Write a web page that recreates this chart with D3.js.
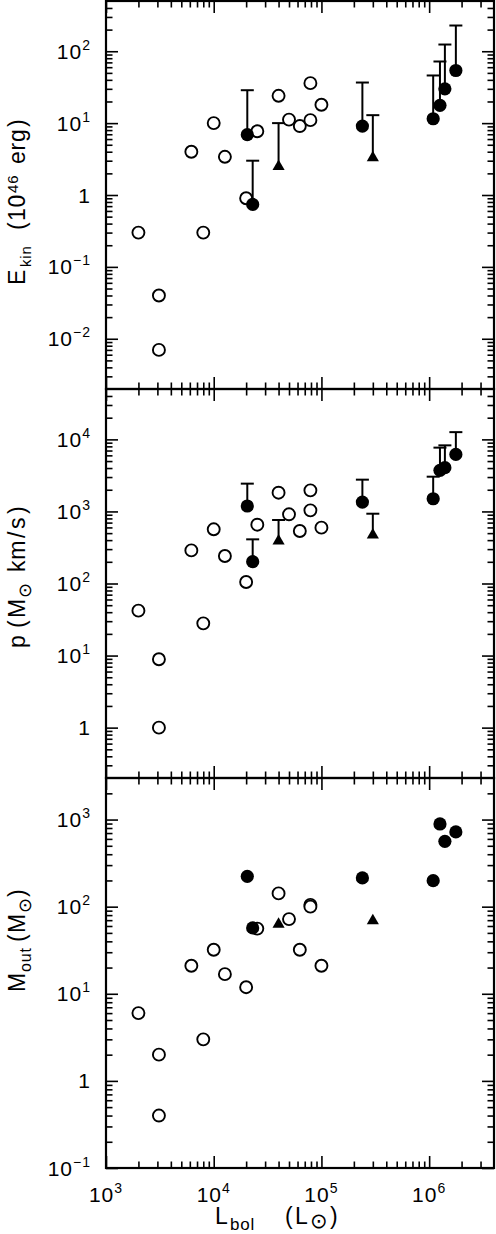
<!DOCTYPE html>
<html>
<head>
<meta charset="utf-8">
<script src="https://cdn.jsdelivr.net/npm/d3@7/dist/d3.min.js"></script>
<style>
  body { margin: 0; background: #fff; }
  svg { display: block; }
  text { font-family: "Liberation Sans", Arial, Helvetica, "DejaVu Sans", sans-serif; fill: #000; }
  .sun { font-family: "DejaVu Sans", sans-serif; }
</style>
</head>
<body>
<div id="chart"></div>
<script>
// Bolometric luminosity (L_sun) of the sources, by marker type
const lumOpen = [2e3, 3.1e3, 3.1e3, 6.2e3, 1e4, 8e3, 1.27e4, 2e4, 2.54e4, 4e4, 5e4, 6.3e4, 7.9e4, 7.9e4, 1e5];
const lumFilled = [2.05e4, 2.3e4, 2.4e5, 1.09e6, 1.26e6, 1.4e6, 1.77e6];
const lumTri = [4e4, 3e5];

// Kinetic energy (1e46 erg)
const ekinOpen = [0.3, 0.04, 0.007, 4.0, 10, 0.3, 3.4, 0.9, 7.7, 24, 11.2, 9.1, 36, 11, 18];
const ekinFilled = [6.9, 0.74, 9.1, 11.5, 17.7, 30, 54];
const ekinFilledUp = [28.7, 3.0, 36.7, 46, 72, 124, 228];
const ekinTri = [2.5, 3.3];
const ekinTriUp = [10, 12.9];

// Momentum (M_sun km/s)
const pOpen = [42, 8.9, 1.0, 288, 565, 28, 241, 105, 655, 1820, 912, 535, 1960, 1035, 596];
const pFilled = [1190, 201, 1350, 1500, 3715, 4050, 6190];
const pFilledUp = [2430, 410, 2760, 3035, 7680, 8260, 12600];
const pTri = [389, 471];
const pTriUp = [760, 930];

// Outflow mass (M_sun)
const moutOpen = [6.0, 2.0, 0.4, 21, 32, 3.0, 16.8, 11.9, 56, 142, 72, 32, 105, 100, 21];
const moutFilled = [223, 57, 214, 199, 890, 563, 721];
const moutTri = [63, 69];

// Tick labels (exponents of ten)
const xTickExp = [3, 4, 5, 6];
const ekinTickExp = [-2, -1, 0, 1, 2];
const pTickExp = [0, 1, 2, 3, 4];
const moutTickExp = [-1, 0, 1, 2, 3];

const W = 496, H = 1234;
const left = 106, right = 494;
const majorLen = 12, minorLen = 6.5;

const svg = d3.select("#chart").append("svg")
    .attr("width", W)
    .attr("height", H);

const x = d3.scaleLog().domain([1e3, 4e6]).range([left, right]);

// minor ticks: 2..9 times each decade inside a domain
function minorTicks(domain) {
  const out = [];
  for (let e = Math.floor(Math.log10(domain[0])) - 1; e <= Math.ceil(Math.log10(domain[1])); e++) {
    for (let m = 2; m <= 9; m++) {
      const v = m * Math.pow(10, e);
      if (v >= domain[0] * 1.0001 && v <= domain[1] * 0.9999) out.push(v);
    }
  }
  return out;
}

function powLabel(sel, e) {
  sel.text(null);
  if (e === 0) { sel.append("tspan").text("1"); return; }
  sel.append("tspan").text("10");
  sel.append("tspan").attr("font-size", 14).attr("dy", -9)
    .text(e < 0 ? "\u2212" + (-e) : String(e));
}

const panels = [
  { top: 1, bottom: 389, domain: [2e-3, 5e2], exps: ekinTickExp,
    open: ekinOpen, filled: ekinFilled, filledUp: ekinFilledUp, tri: ekinTri, triUp: ekinTriUp },
  { top: 389, bottom: 778, domain: [0.2, 5e4], exps: pTickExp,
    open: pOpen, filled: pFilled, filledUp: pFilledUp, tri: pTri, triUp: pTriUp },
  { top: 778, bottom: 1168, domain: [0.1, 3000], exps: moutTickExp,
    open: moutOpen, filled: moutFilled, filledUp: null, tri: moutTri, triUp: null }
];

const xMinor = minorTicks(x.domain());
const xMajor = xTickExp.map(e => Math.pow(10, e));

panels.forEach((p, i) => {
  const y = d3.scaleLog().domain(p.domain).range([p.bottom, p.top]);
  const g = svg.append("g");
  const yMajor = p.exps.map(e => Math.pow(10, e));
  const yMinor = minorTicks(p.domain);

  // ticks on all four sides, pointing inward
  const axes = [
    [d3.axisLeft(y), `translate(${left},0)`, yMajor, yMinor],
    [d3.axisRight(y), `translate(${right},0)`, yMajor, yMinor],
    [d3.axisTop(x), `translate(0,${p.top})`, xMajor, xMinor],
    [d3.axisBottom(x), `translate(0,${p.bottom})`, xMajor, xMinor]
  ];
  axes.forEach(([ax, tr, major, minor]) => {
    g.append("g").attr("transform", tr)
      .call(ax.tickValues(minor).tickSize(-minorLen).tickFormat(""))
      .call(s => s.select(".domain").remove());
    g.append("g").attr("transform", tr)
      .call(ax.tickValues(major).tickSize(-majorLen).tickFormat(""))
      .call(s => s.select(".domain").remove());
  });
  g.selectAll(".tick line").attr("stroke", "#000").attr("stroke-width", 1.6);

  // y tick labels
  p.exps.forEach(e => {
    const t = g.append("text")
      .attr("x", left - 15)
      .attr("y", y(Math.pow(10, e)))
      .attr("dy", "0.36em")
      .attr("text-anchor", "end")
      .attr("font-size", 21)
      .attr("letter-spacing", 1);
    powLabel(t, e);
  });

  // frame
  g.append("rect")
    .attr("x", left).attr("y", p.top)
    .attr("width", right - left).attr("height", p.bottom - p.top)
    .attr("fill", "none").attr("stroke", "#000").attr("stroke-width", 2.2);

  // error bars (upper limits)
  const bars = [];
  if (p.filledUp) lumFilled.forEach((l, k) => bars.push([l, p.filled[k], p.filledUp[k]]));
  if (p.triUp) lumTri.forEach((l, k) => bars.push([l, p.tri[k], p.triUp[k]]));
  bars.forEach(([l, v, up]) => {
    g.append("line")
      .attr("x1", x(l)).attr("x2", x(l))
      .attr("y1", y(v)).attr("y2", y(up))
      .attr("stroke", "#000").attr("stroke-width", 2);
    g.append("line")
      .attr("x1", x(l) - 6.5).attr("x2", x(l) + 6.5)
      .attr("y1", y(up)).attr("y2", y(up))
      .attr("stroke", "#000").attr("stroke-width", 2);
  });

  // open circles
  g.selectAll(".open").data(lumOpen.map((l, k) => [l, p.open[k]]))
    .enter().append("circle")
    .attr("class", "open")
    .attr("cx", d => x(d[0])).attr("cy", d => y(d[1]))
    .attr("r", 6)
    .attr("fill", "#fff").attr("stroke", "#000").attr("stroke-width", 1.9);

  // filled circles
  g.selectAll(".filled").data(lumFilled.map((l, k) => [l, p.filled[k]]))
    .enter().append("circle")
    .attr("class", "filled")
    .attr("cx", d => x(d[0])).attr("cy", d => y(d[1]))
    .attr("r", 6.6)
    .attr("fill", "#000");

  // triangles
  g.selectAll(".tri").data(lumTri.map((l, k) => [l, p.tri[k]]))
    .enter().append("path")
    .attr("class", "tri")
    .attr("transform", d => `translate(${x(d[0])},${y(d[1])})`)
    .attr("d", d3.symbol(d3.symbolTriangle, 64))
    .attr("fill", "#000");

  // x tick labels only under the last panel
  if (i === panels.length - 1) {
    xTickExp.forEach(e => {
      const t = g.append("text")
        .attr("x", x(Math.pow(10, e)))
        .attr("y", p.bottom + 34)
        .attr("text-anchor", "middle")
        .attr("font-size", 21)
        .attr("letter-spacing", 1);
      powLabel(t, e);
    });
  }
});

// axis titles: pieces placed along the text line
// each piece: [text, start, baseline, font size, is sun symbol]
function title(parts, rotated) {
  const t = svg.append("text")
    .attr("transform", rotated ? "rotate(-90)" : null);
  parts.forEach(([s, start, base, size, sun]) => {
    t.append("tspan")
      .attr("class", sun ? "sun" : null)
      .attr("x", rotated ? -start : start)
      .attr("y", base)
      .attr("font-size", size)
      .attr("letter-spacing", 0.8)
      .text(s);
  });
}
title([
  ["E", 285, 25, 23], ["kin", 267, 31, 15], ["(", 230, 25, 23], ["10", 221, 25, 23],
  ["46", 193, 18, 15], ["erg", 164, 25, 23], [")", 127, 25, 23]
], true);
title([
  ["p", 648, 25, 23], ["(", 628, 25, 23], ["M", 618, 25, 23], ["\u2299", 598, 31, 18, true],
  ["km", 572, 25, 23], ["/", 538, 25, 23], ["s", 529, 25, 23], [")", 514, 25, 23]
], true);
title([
  ["M", 992, 25, 23], ["out", 972, 31, 16], ["(", 942, 25, 23], ["M", 933, 25, 23],
  ["\u2299", 913, 31, 18, true], [")", 897, 25, 23]
], true);
title([
  ["L", 215, 1224, 23], ["bol", 230, 1230, 17], ["(", 285, 1224, 23], ["L", 295, 1224, 23],
  ["\u2299", 310, 1228, 21, true], [")", 330, 1224, 23]
], false);
</script>
</body>
</html>
